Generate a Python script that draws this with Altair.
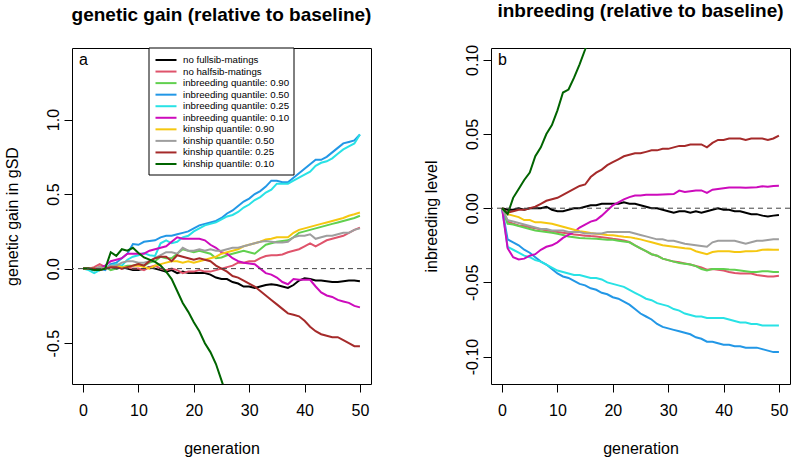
import altair as alt
import pandas as pd

FONT = "Liberation Sans"

generations = list(range(51))

series_names = [
    "no fullsib-matings",
    "no halfsib-matings",
    "inbreeding quantile: 0.90",
    "inbreeding quantile: 0.50",
    "inbreeding quantile: 0.25",
    "inbreeding quantile: 0.10",
    "kinship quantile: 0.90",
    "kinship quantile: 0.50",
    "kinship quantile: 0.25",
    "kinship quantile: 0.10",
]
series_colors = [
    "#000000", "#DF536B", "#61D04F", "#2297E6", "#28E2E5",
    "#CD0BBC", "#F5C710", "#9E9E9E", "#A52A2A", "#006400",
]

# ---- genetic gain (gSD, relative to baseline), one value per generation ----
gain_no_fullsib = [
    0, 0, -0.01, 0, 0, 0.01, 0, 0.01, 0, -0.01,
    -0.01, 0, 0.01, 0, -0.01, -0.02, -0.01, -0.03, -0.02, -0.03,
    -0.03, -0.03, -0.03, -0.04, -0.06, -0.07, -0.07, -0.09, -0.10, -0.12,
    -0.12, -0.13, -0.12, -0.11, -0.105, -0.11, -0.12, -0.13, -0.11, -0.08,
    -0.065, -0.07, -0.08, -0.08, -0.085, -0.09, -0.09, -0.085, -0.08, -0.08, -0.085,
]
gain_no_halfsib = [
    0, 0, 0.01, 0.03, 0.01, 0.01, 0.02, 0.0, 0.01, 0.0,
    0.0, -0.01, 0.01, 0.02, 0.0, -0.01, 0.0, -0.01, -0.03, -0.02,
    -0.02, -0.01, -0.02, -0.02, -0.01, 0.0, 0.01, 0.02, 0.04, 0.04,
    0.05, 0.05, 0.07, 0.085, 0.09, 0.09, 0.095, 0.11, 0.12, 0.13,
    0.15, 0.17, 0.15, 0.17, 0.19, 0.20, 0.21, 0.22, 0.24, 0.26, 0.275,
]
gain_inb_090 = [
    0, 0, -0.01, 0, 0.01, -0.01, 0.0, 0.01, 0.02, 0.02,
    0.03, 0.02, 0.04, 0.05, 0.08, 0.07, 0.07, 0.10, 0.13, 0.12,
    0.11, 0.12, 0.11, 0.10, 0.07, 0.075, 0.09, 0.10, 0.11, 0.12,
    0.11, 0.10, 0.13, 0.16, 0.17, 0.18, 0.185, 0.19, 0.21, 0.24,
    0.25, 0.26, 0.27, 0.28, 0.29, 0.30, 0.31, 0.32, 0.33, 0.34, 0.355,
]
gain_inb_050 = [
    0, 0, -0.01, 0.0, -0.01, 0.03, 0.04, 0.07, 0.10, 0.165,
    0.16, 0.18, 0.185, 0.19, 0.21, 0.22, 0.22, 0.23, 0.24, 0.25,
    0.27, 0.29, 0.30, 0.31, 0.32, 0.34, 0.37, 0.39, 0.42, 0.45,
    0.47, 0.50, 0.52, 0.55, 0.59, 0.59, 0.58, 0.58, 0.61, 0.64,
    0.67, 0.70, 0.73, 0.73, 0.75, 0.78, 0.81, 0.84, 0.85, 0.86, 0.90,
]
gain_inb_025 = [
    0, -0.01, -0.03, -0.01, 0.0, 0.02, 0.03, 0.02, 0.06, 0.08,
    0.09, 0.105, 0.09, 0.085, 0.17, 0.19, 0.17, 0.18, 0.21, 0.22,
    0.25, 0.27, 0.29, 0.30, 0.31, 0.33, 0.35, 0.36, 0.38, 0.41,
    0.43, 0.46, 0.48, 0.51, 0.53, 0.57, 0.57, 0.57, 0.59, 0.61,
    0.63, 0.65, 0.69, 0.71, 0.72, 0.74, 0.77, 0.80, 0.82, 0.84, 0.90,
]
gain_inb_010 = [
    0, 0, 0.0, 0.01, 0.02, 0.05, 0.06, 0.07, 0.10, 0.10,
    0.10, 0.10, 0.12, 0.13, 0.14, 0.15, 0.18, 0.21, 0.20, 0.20,
    0.20, 0.20, 0.19, 0.16, 0.14, 0.11, 0.10, 0.07, 0.05, 0.04,
    0.035, 0.03, 0.0, -0.03, -0.04, -0.06, -0.09, -0.105, -0.07, -0.075,
    -0.075, -0.075, -0.12, -0.16, -0.18, -0.19, -0.21, -0.22, -0.23, -0.25, -0.26,
]
gain_kin_090 = [
    0, 0, 0.0, 0.01, 0.0, 0.01, 0.02, 0.01, 0.01, 0.02,
    0.02, 0.01, 0.0, 0.02, 0.03, 0.04, 0.05, 0.05, 0.04, 0.05,
    0.04, 0.05, 0.06, 0.07, 0.08, 0.10, 0.11, 0.12, 0.13, 0.15,
    0.16, 0.17, 0.18, 0.195, 0.20, 0.21, 0.21, 0.21, 0.24, 0.26,
    0.27, 0.28, 0.29, 0.30, 0.31, 0.32, 0.33, 0.34, 0.355, 0.365, 0.376,
]
gain_kin_050 = [
    0, 0, 0.0, 0.01, 0.0, 0.02, 0.02, 0.04, 0.05, 0.05,
    0.04, 0.04, 0.05, 0.07, 0.09, 0.11, 0.11, 0.10, 0.14, 0.12,
    0.12, 0.13, 0.12, 0.13, 0.12, 0.12, 0.13, 0.14, 0.14, 0.15,
    0.16, 0.17, 0.18, 0.185, 0.18, 0.175, 0.175, 0.18, 0.21, 0.22,
    0.22, 0.23, 0.20, 0.21, 0.22, 0.22, 0.23, 0.24, 0.24, 0.26, 0.27,
]
gain_kin_025 = [
    0, 0, 0.0, -0.01, 0.0, 0.01, 0.01, 0.0, 0.01, 0.02,
    0.03, 0.02, 0.05, 0.07, 0.08, 0.08, 0.05, 0.09, 0.08, 0.07,
    0.06, 0.07, 0.06, 0.05, 0.02, 0.0, -0.02, -0.05, -0.06, -0.08,
    -0.10, -0.12, -0.15, -0.18, -0.21, -0.24, -0.27, -0.30, -0.31, -0.32,
    -0.35, -0.39, -0.42, -0.44, -0.45, -0.46, -0.46, -0.48, -0.50, -0.52, -0.52,
]
gain_kin_010 = [
    0, 0, -0.01, -0.01, 0.0, 0.11, 0.085, 0.13, 0.12, 0.14,
    0.105, 0.075, 0.06, 0.045, 0.02, -0.02, -0.07, -0.15, -0.23, -0.29,
    -0.36, -0.42, -0.50, -0.56, -0.64, -0.75, -0.86,
]

# ---- inbreeding level (relative to baseline), one value per generation ----
inb_no_fullsib = [
    0, -0.001, -0.001, 0.0, -0.001, 0.0, 0.0, 0.0, 0.001, -0.001,
    -0.002, -0.002, -0.001, 0.0, 0.0, 0.001, 0.002, 0.002, 0.003, 0.003,
    0.003, 0.003, 0.004, 0.003, 0.003, 0.002, 0.001, 0.0, 0.0, -0.001,
    -0.002, -0.003, -0.002, -0.002, -0.003, -0.002, -0.003, -0.002, -0.001, 0.0,
    -0.001, -0.001, -0.002, -0.002, -0.003, -0.004, -0.004, -0.005, -0.0055, -0.005, -0.0045,
]
inb_no_halfsib = [
    0, -0.009, -0.0105, -0.0116, -0.012, -0.0128, -0.0135, -0.0142, -0.015, -0.0155,
    -0.016, -0.0165, -0.017, -0.0178, -0.018, -0.0185, -0.0188, -0.019, -0.0195, -0.020,
    -0.0206, -0.021, -0.0218, -0.0228, -0.025, -0.027, -0.029, -0.031, -0.032, -0.034,
    -0.035, -0.036, -0.0365, -0.0372, -0.038, -0.039, -0.040, -0.0414, -0.041, -0.0415,
    -0.042, -0.043, -0.0437, -0.044, -0.044, -0.044, -0.045, -0.0455, -0.046, -0.046, -0.0455,
]
inb_inb_090 = [
    0, -0.0105, -0.011, -0.012, -0.013, -0.014, -0.015, -0.0155, -0.016, -0.0165,
    -0.0172, -0.018, -0.019, -0.0195, -0.020, -0.0203, -0.0205, -0.0206, -0.021, -0.0212,
    -0.0213, -0.022, -0.0225, -0.023, -0.025, -0.027, -0.029, -0.031, -0.032, -0.034,
    -0.035, -0.036, -0.037, -0.0375, -0.038, -0.039, -0.041, -0.042, -0.041, -0.041,
    -0.041, -0.0413, -0.0415, -0.042, -0.0425, -0.043, -0.043, -0.0425, -0.0425, -0.043, -0.043,
]
inb_inb_050 = [
    0, -0.021, -0.023, -0.025, -0.028, -0.030, -0.033, -0.036, -0.038, -0.041,
    -0.044, -0.046, -0.047, -0.049, -0.051, -0.052, -0.054, -0.055, -0.057, -0.058,
    -0.060, -0.061, -0.063, -0.065, -0.068, -0.071, -0.073, -0.075, -0.078, -0.080,
    -0.081, -0.082, -0.083, -0.084, -0.085, -0.087, -0.088, -0.090, -0.090, -0.091,
    -0.092, -0.092, -0.093, -0.093, -0.094, -0.094, -0.094, -0.095, -0.096, -0.097, -0.097,
]
inb_inb_025 = [
    0, -0.026, -0.028, -0.030, -0.032, -0.033, -0.035, -0.036, -0.038, -0.040,
    -0.042, -0.043, -0.044, -0.045, -0.045, -0.046, -0.047, -0.047, -0.048, -0.050,
    -0.051, -0.052, -0.053, -0.055, -0.057, -0.059, -0.061, -0.062, -0.064, -0.065,
    -0.066, -0.068, -0.069, -0.071, -0.072, -0.073, -0.073, -0.074, -0.074, -0.074,
    -0.074, -0.075, -0.076, -0.077, -0.077, -0.078, -0.078, -0.079, -0.079, -0.079, -0.079,
]
inb_inb_010 = [
    0, -0.027, -0.033, -0.0345, -0.034, -0.032, -0.031, -0.028, -0.026, -0.025,
    -0.023, -0.020, -0.018, -0.016, -0.013, -0.011, -0.009, -0.008, -0.005, -0.0016,
    0.002, 0.004, 0.006, 0.0075, 0.0085, 0.0085, 0.009, 0.009, 0.009, 0.0092,
    0.0094, 0.0095, 0.0119, 0.011, 0.0115, 0.012, 0.012, 0.0103, 0.0125, 0.013,
    0.0135, 0.014, 0.014, 0.014, 0.0138, 0.014, 0.0142, 0.0148, 0.0145, 0.015, 0.0152,
]
inb_kin_090 = [
    0, -0.004, -0.005, -0.006, -0.008, -0.008, -0.0095, -0.0095, -0.010, -0.0105,
    -0.0115, -0.0125, -0.0135, -0.0145, -0.0155, -0.016, -0.0167, -0.0172, -0.0176, -0.018,
    -0.0183, -0.0188, -0.0192, -0.0195, -0.0203, -0.021, -0.022, -0.023, -0.024, -0.025,
    -0.0255, -0.026, -0.0265, -0.027, -0.0273, -0.029, -0.030, -0.031, -0.0295, -0.029,
    -0.029, -0.029, -0.0295, -0.0295, -0.029, -0.029, -0.0288, -0.028, -0.0278, -0.028, -0.028,
]
inb_kin_050 = [
    0, -0.008, -0.009, -0.010, -0.011, -0.012, -0.013, -0.014, -0.014, -0.015,
    -0.015, -0.015, -0.016, -0.016, -0.016, -0.017, -0.017, -0.017, -0.017, -0.016,
    -0.016, -0.016, -0.016, -0.016, -0.017, -0.018, -0.019, -0.020, -0.021, -0.021,
    -0.022, -0.022, -0.023, -0.024, -0.0245, -0.025, -0.0255, -0.026, -0.023, -0.022,
    -0.022, -0.022, -0.022, -0.023, -0.024, -0.023, -0.022, -0.022, -0.0215, -0.021, -0.021,
]
inb_kin_025 = [
    0, -0.003, -0.002, -0.001, -0.001, 0.0, 0.001, 0.003, 0.005, 0.006,
    0.007, 0.009, 0.011, 0.013, 0.015, 0.016, 0.021, 0.024, 0.026, 0.029,
    0.031, 0.033, 0.035, 0.036, 0.037, 0.037, 0.038, 0.039, 0.039, 0.040,
    0.040, 0.041, 0.042, 0.042, 0.043, 0.043, 0.043, 0.041, 0.044, 0.046,
    0.046, 0.047, 0.047, 0.047, 0.046, 0.047, 0.047, 0.047, 0.046, 0.047, 0.049,
]
inb_kin_010 = [
    0, -0.004, 0.007, 0.013, 0.019, 0.024, 0.035, 0.041, 0.050, 0.056,
    0.066, 0.078, 0.080, 0.088, 0.097, 0.107, 0.118, 0.127,
]

gain_series = [
    gain_no_fullsib, gain_no_halfsib, gain_inb_090, gain_inb_050, gain_inb_025,
    gain_inb_010, gain_kin_090, gain_kin_050, gain_kin_025, gain_kin_010,
]
inb_series = [
    inb_no_fullsib, inb_no_halfsib, inb_inb_090, inb_inb_050, inb_inb_025,
    inb_inb_010, inb_kin_090, inb_kin_050, inb_kin_025, inb_kin_010,
]


def long_frame(all_series):
    rows = []
    for name, values in zip(series_names, all_series):
        for g, v in zip(generations, values):
            rows.append({"series": name, "generation": g, "value": v})
    return pd.DataFrame(rows)


gain_df = long_frame(gain_series)
inb_df = long_frame(inb_series)
legend_df = pd.DataFrame({"series": series_names, "row": list(range(len(series_names)))})

color_scale = alt.Scale(domain=series_names, range=series_colors)

PANEL_W, PANEL_H = 299, 336


def minus_label(fmt):
    return (
        f"datum.value < 0 ? '-' + format(-datum.value, '{fmt}') "
        f": format(datum.value, '{fmt}')"
    )


def panel(df, title, y_title, y_domain, y_ticks, fmt, letter, with_legend):
    x_enc = alt.X(
        "generation:Q",
        scale=alt.Scale(domain=[-2, 52], nice=False, zero=False),
        axis=alt.Axis(values=[0, 10, 20, 30, 40, 50], title="generation",
                      format="d", titlePadding=22),
    )
    y_enc = alt.Y(
        "value:Q",
        scale=alt.Scale(domain=y_domain, nice=False, zero=False),
        axis=alt.Axis(values=y_ticks, title=y_title, labelAngle=270,
                      labelAlign="center", labelBaseline="bottom",
                      labelExpr=minus_label(fmt), titlePadding=25),
    )
    zero = alt.Chart(pd.DataFrame({"value": [0.0]})).mark_rule(
        color="#444444", strokeWidth=1, strokeDash=[5, 4]
    ).encode(y=alt.Y("value:Q"))
    lines = alt.Chart(df).mark_line(strokeWidth=2, clip=True).encode(
        x=x_enc, y=y_enc,
        color=alt.Color("series:N", scale=color_scale, legend=None),
    )
    tag = alt.Chart(pd.DataFrame({"t": [letter]})).mark_text(
        align="left", baseline="alphabetic", fontSize=16, font=FONT, color="black"
    ).encode(x=alt.value(7), y=alt.value(17), text="t:N")
    data_layer = alt.layer(lines, zero, tag)

    if with_legend:
        box = alt.Chart(pd.DataFrame({"b": [1]})).mark_rect(
            fill="white", stroke="black", strokeWidth=1
        ).encode(x=alt.value(77), x2=alt.value(222), y=alt.value(0), y2=alt.value(127))
        row_y = alt.Y("row:Q", scale=alt.Scale(domain=[0, 9], range=[12, 116]), axis=None)
        keys = alt.Chart(legend_df).mark_rule(strokeWidth=2).encode(
            x=alt.value(83.5), x2=alt.value(104.5), y=row_y,
            color=alt.Color("series:N", scale=color_scale, legend=None),
        )
        names = alt.Chart(legend_df).mark_text(
            align="left", baseline="middle", fontSize=9.7, font=FONT, color="black"
        ).encode(x=alt.value(111), y=row_y, text="series:N")
        legend_layer = alt.layer(box, keys, names)
        chart = alt.layer(data_layer, legend_layer).resolve_scale(y="independent")
    else:
        chart = data_layer

    return chart.properties(
        width=PANEL_W, height=PANEL_H,
        title=alt.TitleParams(title, fontSize=19, fontWeight="bold", font=FONT,
                              anchor="middle", offset=23, color="black"),
    )


left = panel(gain_df, "genetic gain (relative to baseline)", "genetic gain in gSD",
             [-0.774, 1.48], [-0.5, 0.0, 0.5, 1.0], ".1f", "a", True)
right = panel(inb_df, "inbreeding (relative to baseline)", "inbreeding level",
              [-0.1185, 0.108], [-0.10, -0.05, 0.0, 0.05, 0.10], ".2f", "b", False)

chart = alt.hconcat(left, right, spacing=120, bounds="flush").properties(
    padding={"left": 3, "top": 1, "right": 1, "bottom": 2}
).configure_view(
    stroke="black", strokeWidth=1
).configure_axis(
    domain=False, grid=False, ticks=True, tickSize=8, tickColor="black",
    labelFont=FONT, labelFontSize=16, labelColor="black", labelPadding=3,
    titleFont=FONT, titleFontSize=16, titleFontWeight="normal", titleColor="black",
).configure_axisX(
    labelPadding=10
)

chart.save("out.html", embed_options={"renderer": "svg", "actions": False})
